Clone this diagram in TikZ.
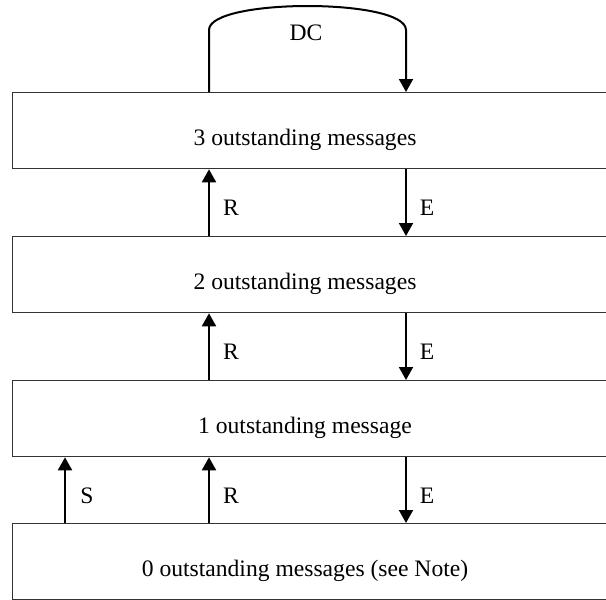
\documentclass[tikz,border=0pt]{standalone}
\usepackage{fontspec}
\setmainfont{Liberation Serif}
\usetikzlibrary{arrows.meta}

\begin{document}
\begin{tikzpicture}
  [x=0.5pt,y=-0.5pt,every node/.style={font=\fontsize{11.8}{14}\selectfont,inner sep=0pt},
   statebox/.style={rectangle,draw=black!80,line width=0.65pt,anchor=north west,minimum width=304pt,minimum height=38pt},
   statetext/.style={anchor=base},
   lbl/.style={anchor=base},
   trans/.style={-{Triangle[width=7pt,length=6.5pt]},line width=1pt}] % the boxes run past the right edge of the page, so everything is clipped to it

    \useasboundingbox (0,0) rectangle (606,600);
    \clip (0,0) rectangle (606,600);

    \coordinate (xs) at (65,0);
    \coordinate (xr) at (209,0);
    \coordinate (xe) at (406,0);
    \coordinate (dcl) at (209,30);
    \coordinate (dcr) at (406,30);

    \node[statebox] (b3) at (12,92)  {};
    \node[statebox] (b2) at (12,236) {};
    \node[statebox] (b1) at (12,380) {};
    \node[statebox] (b0) at (12,523) {};

    \node[statetext] (t3) at (305,145) {3 outstanding messages};
    \node[statetext] (t2) at (305,289) {2 outstanding messages};
    \node[statetext] (t1) at (305,433) {1 outstanding message};
    \node[statetext] (t0) at (305,576) {0 outstanding messages (see Note)};

    \draw[trans] (b3.north -| xr) -- (dcl) .. controls (209,-2) and (406,-2) .. (dcr) -- (b3.north -| xe);
    \node[lbl] (dc) at (306,40) {DC};

    \draw[trans] (b2.north -| xr) -- (b3.south -| xr);
    \draw[trans] (b3.south -| xe) -- (b2.north -| xe);
    \node[lbl] (r32) at (231,215) {R};
    \node[lbl] (e32) at (427,215) {E};

    \draw[trans] (b1.north -| xr) -- (b2.south -| xr);
    \draw[trans] (b2.south -| xe) -- (b1.north -| xe);
    \node[lbl] (r21) at (231,359) {R};
    \node[lbl] (e21) at (427,359) {E};

    \draw[trans] (b0.north -| xs) -- (b1.south -| xs);
    \draw[trans] (b0.north -| xr) -- (b1.south -| xr);
    \draw[trans] (b1.south -| xe) -- (b0.north -| xe);
    \node[lbl] (s10) at (87,503)  {S};
    \node[lbl] (r10) at (231,503) {R};
    \node[lbl] (e10) at (427,503) {E};

\end{tikzpicture}
\end{document}
